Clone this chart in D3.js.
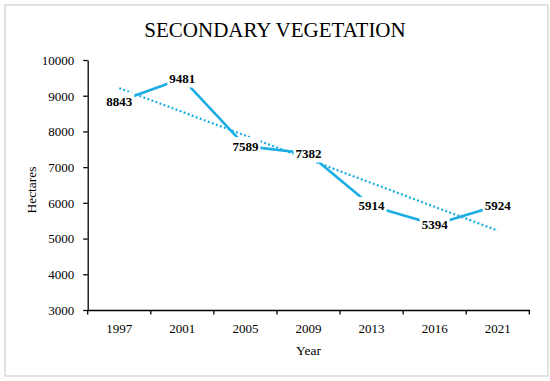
<!DOCTYPE html>
<html>
<head>
<meta charset="utf-8">
<script src="https://cdn.jsdelivr.net/npm/d3@7"></script>
<style>
  body { margin: 0; background: #fff; }
  svg { display: block; font-family: "Liberation Serif", "DejaVu Serif", serif; }
  .axis path, .axis line { stroke: #000; stroke-width: 1.3; }
</style>
</head>
<body>
<div id="chart"></div>
<script>
// Dados
const years = ["1997", "2001", "2005", "2009", "2013", "2016", "2021"];
const hectares = [8843, 9481, 7589, 7382, 5914, 5394, 5924];
const yTicks = [3000, 4000, 5000, 6000, 7000, 8000, 9000, 10000];

const W = 550, H = 381;
const lineColor = "#1aade4";
const serif = "'Liberation Serif', 'DejaVu Serif', serif";

const svg = d3.select("#chart").append("svg")
    .attr("width", W)
    .attr("height", H);

// Moldura
svg.append("rect")
    .attr("x", 5).attr("y", 5)
    .attr("width", 543).attr("height", 371)
    .attr("fill", "#fff")
    .attr("stroke", "#d9d9d9")
    .attr("stroke-width", 1.5);

// Escalas
const x = d3.scaleBand()
    .domain(years)
    .range([87.7, 529.3])
    .padding(0);

const y = d3.scaleLinear()
    .domain([3000, 10000])
    .range([310, 60]);

// Eixo Y
svg.append("g")
    .attr("class", "axis")
    .attr("transform", "translate(87.7,0)")
    .call(d3.axisLeft(y).tickValues(yTicks).tickFormat(d3.format("d"))
        .tickSize(4.5).tickSizeOuter(0).tickPadding(9))
    .attr("font-family", serif)
    .attr("font-size", 13)
    .call(g => g.selectAll("text").attr("dy", "0.34em").attr("fill", "#000"));

// Eixo X (rótulos no centro das categorias)
const xAxis = svg.append("g")
    .attr("class", "axis")
    .attr("transform", "translate(0,310)")
    .call(d3.axisBottom(x).tickSize(0).tickPadding(14).tickSizeOuter(0))
    .attr("font-family", serif)
    .attr("font-size", 13)
    .call(g => g.selectAll("text").attr("fill", "#000"));

// Ticks nas fronteiras das categorias
const bounds = years.map(d => x(d)).concat([x.range()[1]]);
xAxis.selectAll(".bound")
    .data(bounds)
    .enter()
    .append("line")
    .attr("class", "bound")
    .attr("x1", d => d).attr("x2", d => d)
    .attr("y1", 0).attr("y2", 4.5);

// Títulos
svg.append("text")
    .attr("x", 275).attr("y", 37)
    .attr("text-anchor", "middle")
    .attr("font-size", "21px")
    .attr("fill", "#000")
    .text("SECONDARY VEGETATION");

svg.append("text")
    .attr("transform", "translate(36,190) rotate(-90)")
    .attr("text-anchor", "middle")
    .attr("font-size", "13.5px")
    .attr("fill", "#000")
    .text("Hectares");

svg.append("text")
    .attr("x", 308.5).attr("y", 355)
    .attr("text-anchor", "middle")
    .attr("font-size", "13.5px")
    .attr("fill", "#000")
    .text("Year");

// Linha de tendência (regressão linear)
const idx = hectares.map((v, i) => i + 1);
const mx = d3.mean(idx), my = d3.mean(hectares);
const slope = d3.sum(idx, (v, i) => (v - mx) * (hectares[i] - my)) / d3.sum(idx, v => (v - mx) * (v - mx));
const trend = years.map((d, i) => ({ year: d, value: my + slope * (idx[i] - mx) }));

const cx = d => x(d) + x.bandwidth() / 2;

svg.append("path")
    .datum([trend[0], trend[trend.length - 1]])
    .attr("fill", "none")
    .attr("stroke", lineColor)
    .attr("stroke-width", 2.2)
    .attr("stroke-dasharray", "2,2.3")
    .attr("d", d3.line().x(d => cx(d.year)).y(d => y(d.value)));

// Série
const series = years.map((d, i) => ({ year: d, value: hectares[i] }));

svg.append("path")
    .datum(series)
    .attr("fill", "none")
    .attr("stroke", lineColor)
    .attr("stroke-width", 2.6)
    .attr("stroke-linejoin", "round")
    .attr("d", d3.line().x(d => cx(d.year)).y(d => y(d.value)));

// Rótulos de dados com fundo branco
const labels = svg.selectAll(".lbl")
    .data(series)
    .enter()
    .append("g")
    .attr("class", "lbl")
    .attr("transform", d => `translate(${cx(d.year)},${y(d.value)})`);

labels.append("rect")
    .attr("x", -15).attr("y", -9)
    .attr("width", 30).attr("height", 18)
    .attr("fill", "#fff");

labels.append("text")
    .attr("text-anchor", "middle")
    .attr("dy", "0.35em")
    .attr("font-size", "13px")
    .attr("font-weight", "bold")
    .attr("fill", "#000")
    .text(d => d.value);
</script>
</body>
</html>
